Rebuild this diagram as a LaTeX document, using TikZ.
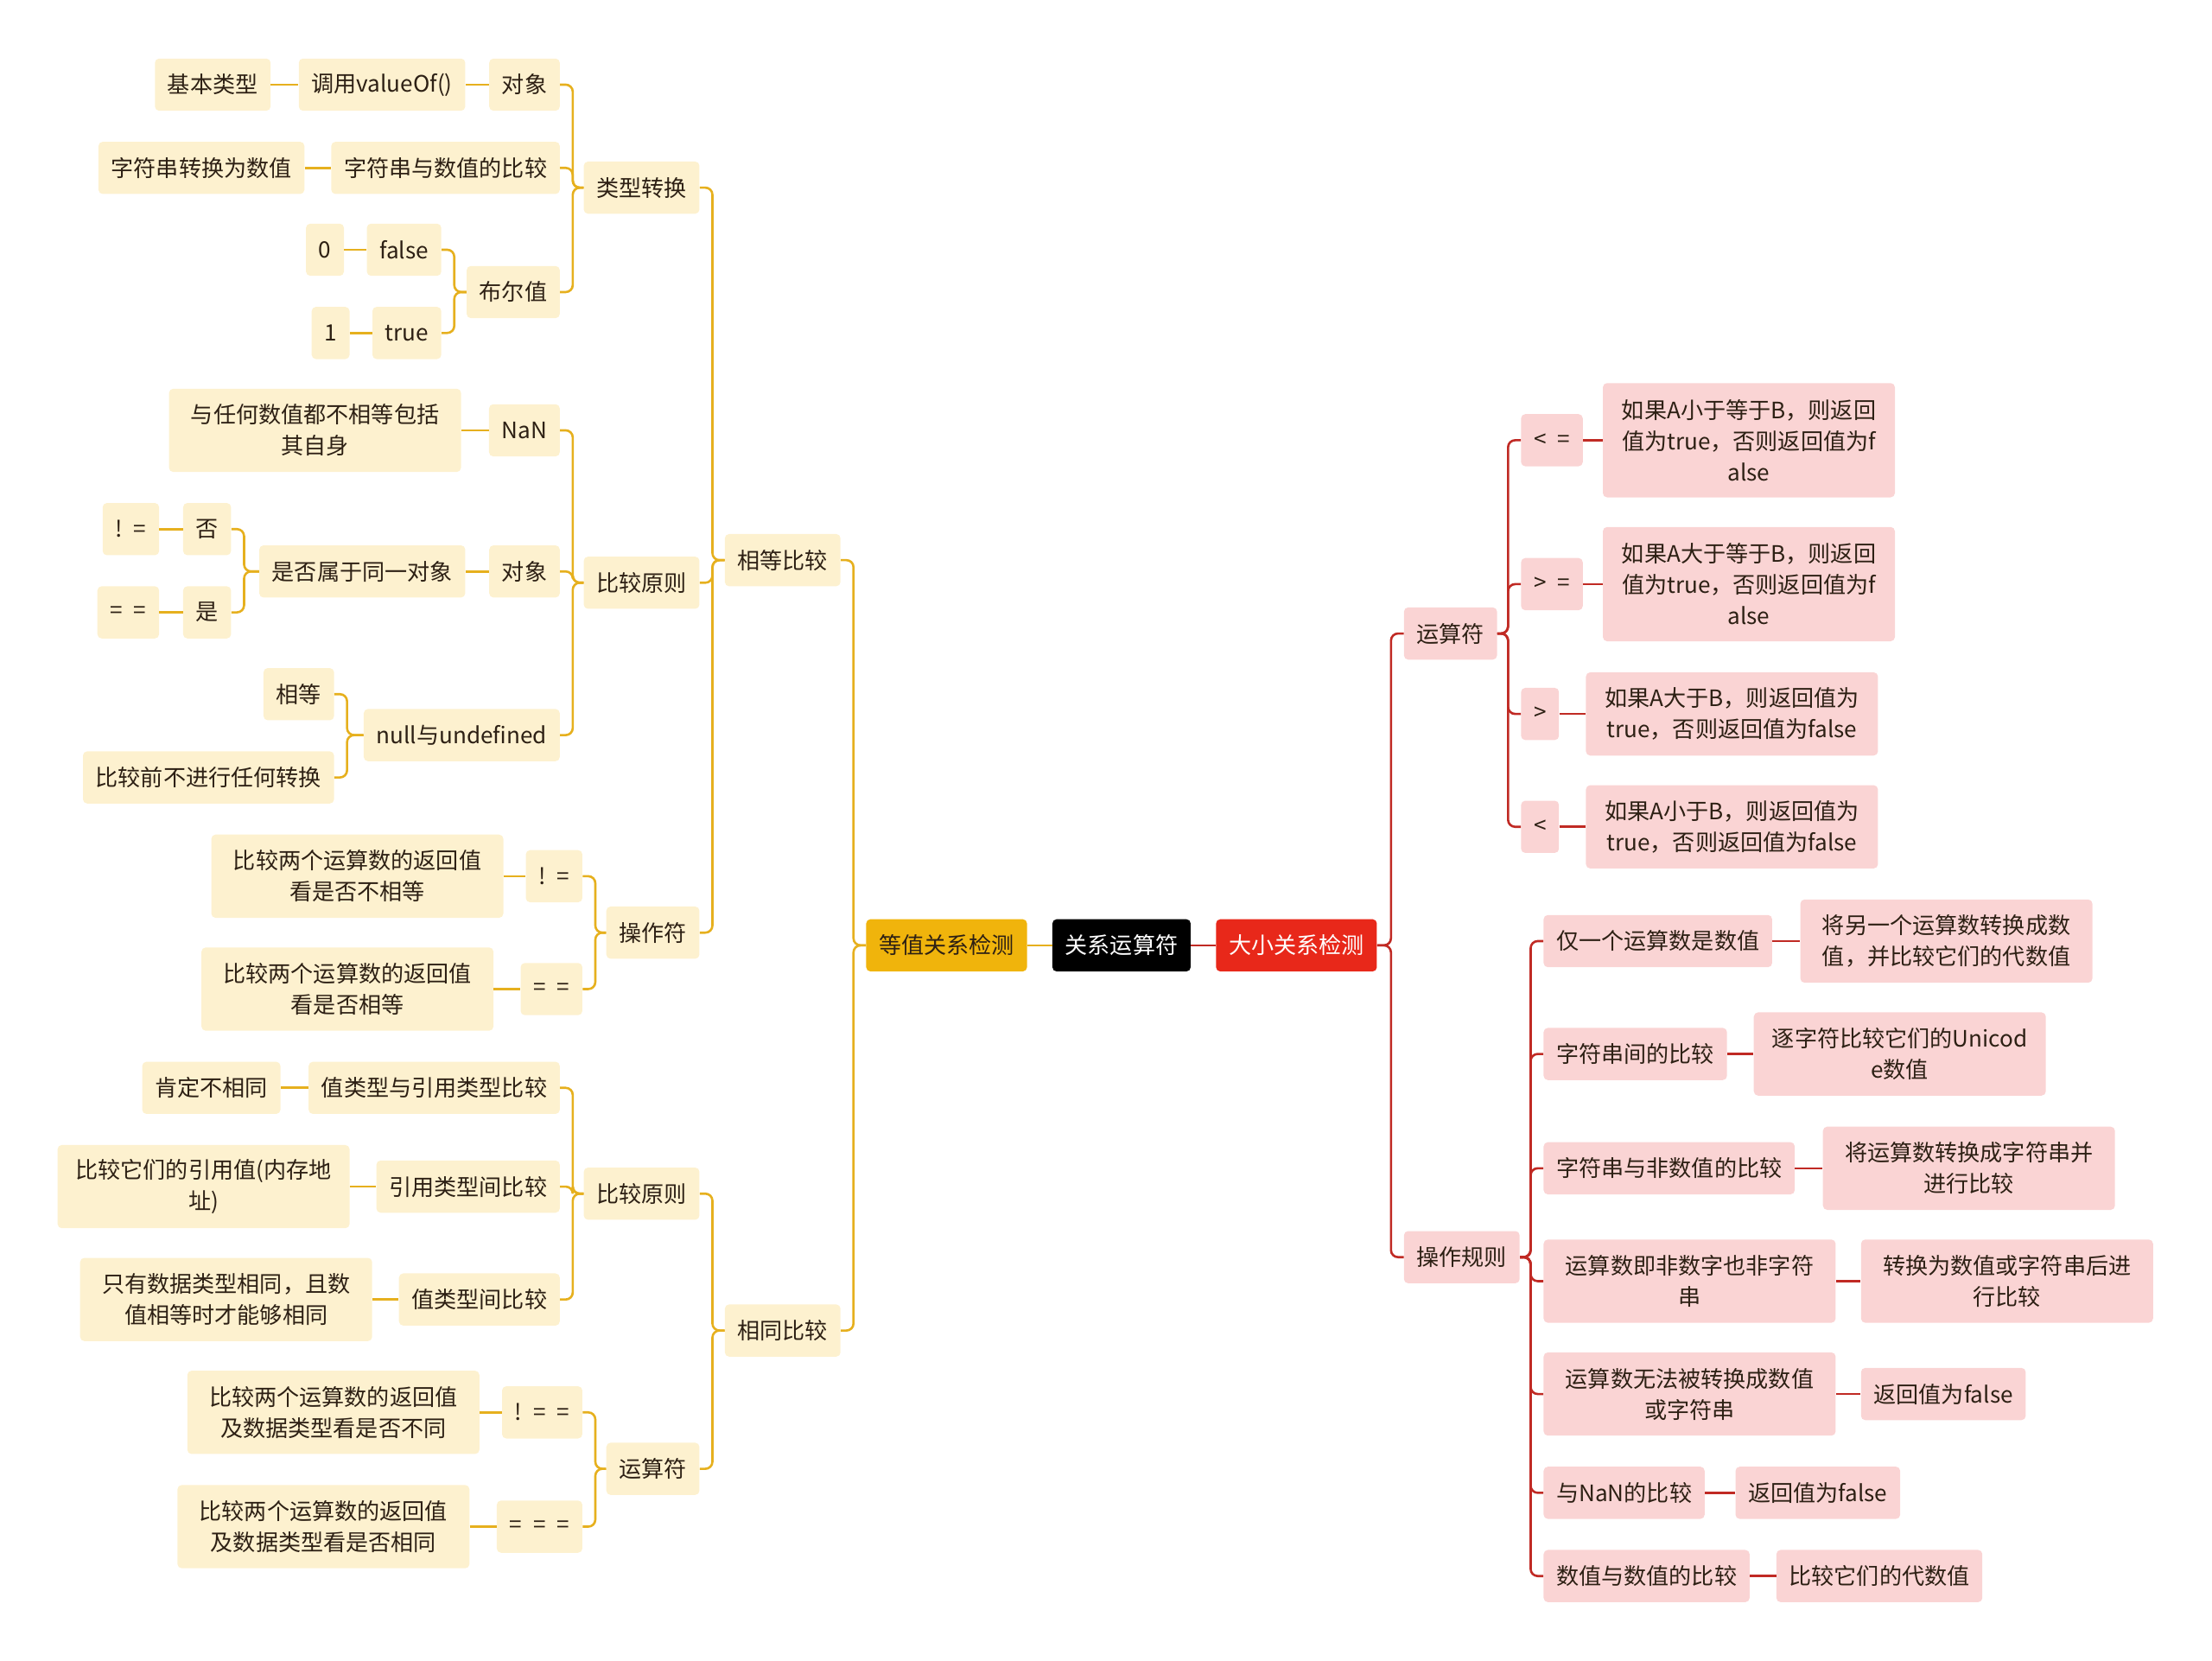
\documentclass[tikz,border=0pt]{standalone}
\usepackage{fontspec}
\setmainfont{Noto Sans CJK SC}

\definecolor{yfill}{RGB}{253,241,207}
\definecolor{yline}{RGB}{230,176,30}
\definecolor{rfill}{RGB}{250,212,212}
\definecolor{rline}{RGB}{192,42,36}
\definecolor{gold}{RGB}{240,180,12}
\definecolor{redtop}{RGB}{232,40,26}
\definecolor{ink}{RGB}{45,32,20}

\tikzset{
  box/.style={rounded corners=3pt, minimum height=37pt, inner xsep=9pt, inner ysep=0pt,
    text=ink, font=\fontsize{16pt}{22pt}\selectfont},
  ybox/.style={box, fill=yfill},
  rbox/.style={box, fill=rfill},
  twoline/.style={text width=189pt, align=center, minimum height=59pt},
  threeline/.style={text width=189pt, align=center, minimum height=81pt},
  ylink/.style={yline, line width=1.6pt, rounded corners=5pt},
  rlink/.style={rline, line width=1.6pt, rounded corners=5pt}
}

\begin{document}
\begin{tikzpicture}[x=1pt,y=-1pt]

\useasboundingbox (0,0) rectangle (1568,1177);

\node[box, fill=gold] (DZ) at (671,670) {等值关系检测};
\node[box, fill=black, text=white] (RT) at (795,670) {关系运算符};
\node[box, fill=redtop, text=white] (DX) at (919,670) {大小关系检测};

% equality side
\node[ybox, anchor=east] (XD) at (596,397) {相等比较};
\node[ybox, anchor=east] (XT) at (596,943) {相同比较};

\node[ybox, anchor=east] (LZ) at (496,133) {类型转换};
\node[ybox, anchor=east] (BYa) at (496,413) {比较原则};
\node[ybox, anchor=east] (CZ) at (496,661) {操作符};
\node[ybox, anchor=east] (BYb) at (496,846) {比较原则};
\node[ybox, anchor=east] (YS) at (496,1041) {运算符};

\node[ybox, anchor=east] (DXa) at (397,60) {对象};
\node[ybox, anchor=east] (ZS) at (397,119) {字符串与数值的比较};
\node[ybox, anchor=east] (BE) at (397,207) {布尔值};
\node[ybox, anchor=east] (NaN) at (397,305) {NaN};
\node[ybox, anchor=east] (DXb) at (397,405) {对象};
\node[ybox, anchor=east] (NU) at (397,521) {null与undefined};
\node[ybox, anchor=east] (NEa) at (413,621) {!\enspace=};
\node[ybox, anchor=east] (EQa) at (413,701) {=\enspace=};
\node[ybox, anchor=east] (ZY) at (397,771) {值类型与引用类型比较};
\node[ybox, anchor=east] (YY) at (397,841) {引用类型间比较};
\node[ybox, anchor=east] (ZJ) at (397,921) {值类型间比较};
\node[ybox, anchor=east] (NEb) at (413,1001) {!\enspace=\enspace=};
\node[ybox, anchor=east] (EQb) at (413,1082) {=\enspace=\enspace=};

\node[ybox, anchor=east] (DY) at (330,60) {调用valueOf()};
\node[ybox, anchor=east] (JB) at (192,60) {基本类型};
\node[ybox, anchor=east] (ZZ) at (216,119) {字符串转换为数值};
\node[ybox, anchor=east] (FA) at (313,177) {false};
\node[ybox, anchor=east] (TR) at (313,236) {true};
\node[ybox, anchor=east] (NL) at (244,177) {0};
\node[ybox, anchor=east] (NO) at (248,236) {1};
\node[ybox, twoline, anchor=east] (BD) at (327,305) {与任何数值都不相等包括\\其自身};
\node[ybox, anchor=east] (SF) at (330,405) {是否属于同一对象};
\node[ybox, anchor=east] (FO) at (164,375) {否};
\node[ybox, anchor=east] (SH) at (164,434) {是};
\node[ybox, anchor=east] (NEc) at (113,375) {!\enspace=};
\node[ybox, anchor=east] (EQc) at (113,434) {=\enspace=};
\node[ybox, anchor=east] (XE) at (237,492) {相等};
\node[ybox, anchor=east] (BQ) at (237,551) {比较前不进行任何转换};
\node[ybox, twoline, anchor=east] (KNE) at (357,621) {比较两个运算数的返回值\\看是否不相等};
\node[ybox, twoline, anchor=east] (KEQ) at (350,701) {比较两个运算数的返回值\\看是否相等};
\node[ybox, anchor=east] (KD) at (199,771) {肯定不相同};
\node[ybox, twoline, anchor=east] (NC) at (248,841) {比较它们的引用值(内存地\\址)};
\node[ybox, twoline, anchor=east] (ZH) at (264,921) {只有数据类型相同，且数\\值相等时才能够相同};
\node[ybox, twoline, anchor=east] (KNEE) at (340,1001) {比较两个运算数的返回值\\及数据类型看是否不同};
\node[ybox, twoline, anchor=east] (KEQQ) at (333,1082) {比较两个运算数的返回值\\及数据类型看是否相同};

% relational side
\node[rbox, anchor=west] (YF) at (995,449) {运算符};
\node[rbox, anchor=west] (CG) at (995,891) {操作规则};

\node[rbox, anchor=west] (LE) at (1078,312) {<\enspace=};
\node[rbox, anchor=west] (GE) at (1078,414) {>\enspace=};
\node[rbox, anchor=west] (GT) at (1078,506) {>};
\node[rbox, anchor=west] (LT) at (1078,586) {<};
\node[rbox, threeline, anchor=west] (LEt) at (1136,312) {如果A小于等于B，则返回\\值为true，否则返回值为f\\alse};
\node[rbox, threeline, anchor=west] (GEt) at (1136,414) {如果A大于等于B，则返回\\值为true，否则返回值为f\\alse};
\node[rbox, twoline, anchor=west] (GTt) at (1124,506) {如果A大于B，则返回值为\\true，否则返回值为false};
\node[rbox, twoline, anchor=west] (LTt) at (1124,586) {如果A小于B，则返回值为\\true，否则返回值为false};

\node[rbox, anchor=west] (GZa) at (1094,667) {仅一个运算数是数值};
\node[rbox, anchor=west] (GZb) at (1094,747) {字符串间的比较};
\node[rbox, anchor=west] (GZc) at (1094,828) {字符串与非数值的比较};
\node[rbox, twoline, anchor=west] (GZd) at (1094,908) {运算数即非数字也非字符\\串};
\node[rbox, twoline, anchor=west] (GZe) at (1094,988) {运算数无法被转换成数值\\或字符串};
\node[rbox, anchor=west] (GZf) at (1094,1058) {与NaN的比较};
\node[rbox, anchor=west] (GZg) at (1094,1117) {数值与数值的比较};

\node[rbox, twoline, anchor=west] (JGa) at (1276,667) {将另一个运算数转换成数\\值，并比较它们的代数值};
\node[rbox, twoline, anchor=west] (JGb) at (1243,747) {逐字符比较它们的Unicod\\e数值};
\node[rbox, twoline, anchor=west] (JGc) at (1292,828) {将运算数转换成字符串并\\进行比较};
\node[rbox, twoline, anchor=west] (JGd) at (1319,908) {转换为数值或字符串后进\\行比较};
\node[rbox, anchor=west] (JGe) at (1319,988) {返回值为false};
\node[rbox, anchor=west] (JGf) at (1230,1058) {返回值为false};
\node[rbox, anchor=west] (JGg) at (1259,1117) {比较它们的代数值};

% links
\draw[ylink] (DZ.east) -- (RT.west);
\draw[rlink] (RT.east) -- (DX.west);

\draw[ylink] (XD.east) -- ++(9,0) |- (DZ.west);
\draw[ylink] (XT.east) -- ++(9,0) |- (DZ.west);
\draw[ylink] (LZ.east) -- ++(9,0) |- (XD.west);
\draw[ylink] (BYa.east) -- ++(9,0) |- (XD.west);
\draw[ylink] (CZ.east) -- ++(9,0) |- (XD.west);
\draw[ylink] (BYb.east) -- ++(9,0) |- (XT.west);
\draw[ylink] (YS.east) -- ++(9,0) |- (XT.west);

\draw[ylink] (DXa.east) -- ++(9,0) |- (LZ.west);
\draw[ylink] (ZS.east) -- ++(9,0) |- (LZ.west);
\draw[ylink] (BE.east) -- ++(9,0) |- (LZ.west);
\draw[ylink] (NaN.east) -- ++(9,0) |- (BYa.west);
\draw[ylink] (DXb.east) -- ++(9,0) |- (BYa.west);
\draw[ylink] (NU.east) -- ++(9,0) |- (BYa.west);
\draw[ylink] (NEa.east) -- ++(9,0) |- (CZ.west);
\draw[ylink] (EQa.east) -- ++(9,0) |- (CZ.west);
\draw[ylink] (ZY.east) -- ++(9,0) |- (BYb.west);
\draw[ylink] (YY.east) -- ++(9,0) |- (BYb.west);
\draw[ylink] (ZJ.east) -- ++(9,0) |- (BYb.west);
\draw[ylink] (NEb.east) -- ++(9,0) |- (YS.west);
\draw[ylink] (EQb.east) -- ++(9,0) |- (YS.west);

\draw[ylink] (DY.east) -- (DXa.west);
\draw[ylink] (JB.east) -- (DY.west);
\draw[ylink] (ZZ.east) -- (ZS.west);
\draw[ylink] (FA.east) -- ++(9,0) |- (BE.west);
\draw[ylink] (TR.east) -- ++(9,0) |- (BE.west);
\draw[ylink] (NL.east) -- (FA.west);
\draw[ylink] (NO.east) -- (TR.west);
\draw[ylink] (BD.east) -- (NaN.west);
\draw[ylink] (SF.east) -- (DXb.west);
\draw[ylink] (FO.east) -- ++(9,0) |- (SF.west);
\draw[ylink] (SH.east) -- ++(9,0) |- (SF.west);
\draw[ylink] (NEc.east) -- (FO.west);
\draw[ylink] (EQc.east) -- (SH.west);
\draw[ylink] (XE.east) -- ++(9,0) |- (NU.west);
\draw[ylink] (BQ.east) -- ++(9,0) |- (NU.west);
\draw[ylink] (KNE.east) -- (NEa.west);
\draw[ylink] (KEQ.east) -- (EQa.west);
\draw[ylink] (KD.east) -- (ZY.west);
\draw[ylink] (NC.east) -- (YY.west);
\draw[ylink] (ZH.east) -- (ZJ.west);
\draw[ylink] (KNEE.east) -- (NEb.west);
\draw[ylink] (KEQQ.east) -- (EQb.west);

\draw[rlink] (YF.west) -- ++(-9,0) |- (DX.east);
\draw[rlink] (CG.west) -- ++(-9,0) |- (DX.east);
\draw[rlink] (LE.west) -- ++(-9,0) |- (YF.east);
\draw[rlink] (GE.west) -- ++(-9,0) |- (YF.east);
\draw[rlink] (GT.west) -- ++(-9,0) |- (YF.east);
\draw[rlink] (LT.west) -- ++(-9,0) |- (YF.east);
\draw[rlink] (LE.east) -- (LEt.west);
\draw[rlink] (GE.east) -- (GEt.west);
\draw[rlink] (GT.east) -- (GTt.west);
\draw[rlink] (LT.east) -- (LTt.west);

\draw[rlink] (GZa.west) -- ++(-9,0) |- (CG.east);
\draw[rlink] (GZb.west) -- ++(-9,0) |- (CG.east);
\draw[rlink] (GZc.west) -- ++(-9,0) |- (CG.east);
\draw[rlink] (GZd.west) -- ++(-9,0) |- (CG.east);
\draw[rlink] (GZe.west) -- ++(-9,0) |- (CG.east);
\draw[rlink] (GZf.west) -- ++(-9,0) |- (CG.east);
\draw[rlink] (GZg.west) -- ++(-9,0) |- (CG.east);
\draw[rlink] (GZa.east) -- (JGa.west);
\draw[rlink] (GZb.east) -- (JGb.west);
\draw[rlink] (GZc.east) -- (JGc.west);
\draw[rlink] (GZd.east) -- (JGd.west);
\draw[rlink] (GZe.east) -- (JGe.west);
\draw[rlink] (GZf.east) -- (JGf.west);
\draw[rlink] (GZg.east) -- (JGg.west);

\end{tikzpicture}
\end{document}
